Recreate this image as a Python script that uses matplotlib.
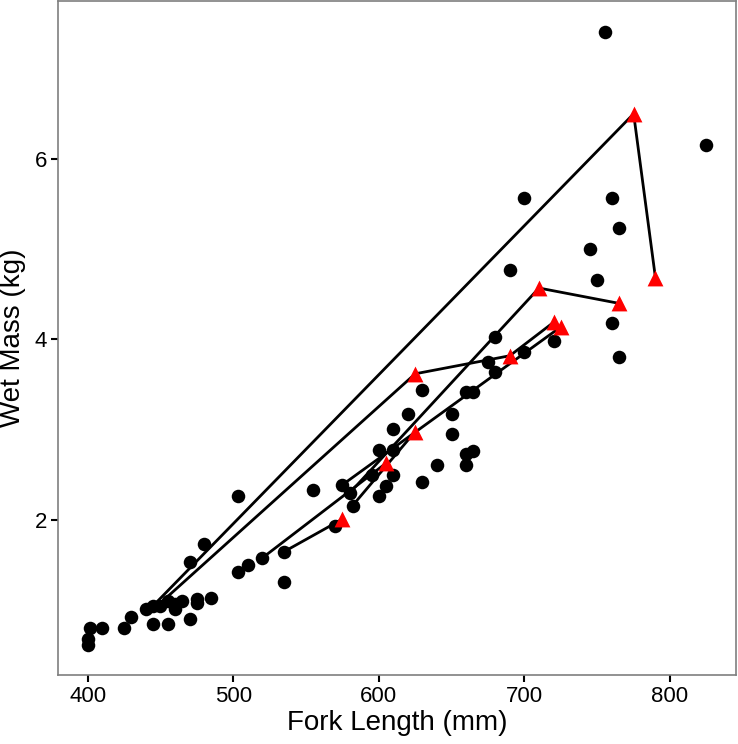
import matplotlib
matplotlib.use('Agg')
import matplotlib.pyplot as plt

plt.rcParams['font.family'] = ['Liberation Sans', 'DejaVu Sans']

# all fish (black dots)
fork_length = [755, 825, 700, 760, 765, 745, 750, 690, 760, 765, 720, 700,
               680, 675, 680, 660, 665, 630, 620, 650, 650, 610, 600, 610,
               660, 665, 660, 640, 595, 610, 605, 600, 630, 575, 580, 582,
               570, 555, 503, 535, 535, 520, 510, 503, 480, 470, 485, 475,
               475, 470, 465, 460, 460, 455, 455, 450, 445, 445, 440, 430,
               425, 410, 402, 400, 400]
wet_mass = [7.41, 6.15, 5.57, 5.57, 5.23, 5.00, 4.66, 4.77, 4.18, 3.81, 3.98, 3.86,
            4.03, 3.75, 3.64, 3.42, 3.42, 3.44, 3.18, 3.18, 2.95, 3.01, 2.78, 2.78,
            2.73, 2.76, 2.61, 2.61, 2.50, 2.50, 2.38, 2.27, 2.42, 2.39, 2.30, 2.16,
            1.93, 2.33, 2.27, 1.65, 1.31, 1.58, 1.50, 1.42, 1.73, 1.53, 1.14, 1.13,
            1.08, 0.90, 1.10, 1.02, 1.07, 1.10, 0.85, 1.05, 1.05, 0.85, 1.01, 0.93,
            0.80, 0.80, 0.80, 0.68, 0.62]

# recaptured fish: first point is the tagging capture, the rest are recaptures
track_length = [
    [445, 775, 790],
    [450, 625, 690, 720],
    [580, 710, 765],
    [575, 725],
    [520, 605],
    [535, 575],
    [582, 625],
]
track_mass = [
    [1.05, 6.50, 4.68],
    [1.08, 3.62, 3.82, 4.19],
    [2.30, 4.57, 4.40],
    [2.39, 4.14],
    [1.58, 2.63],
    [1.65, 2.01],
    [2.16, 2.98],
]

fig = plt.figure(figsize=(7.38, 7.44), dpi=100)
ax = fig.add_axes([0.0786, 0.0927, 0.9187, 0.906])

for xs, ys in zip(track_length, track_mass):
    ax.plot(xs, ys, color='black', lw=2.0, zorder=2)

ax.scatter(fork_length, wet_mass, s=95, color='black', linewidths=0, zorder=3)

for xs, ys in zip(track_length, track_mass):
    ax.scatter(xs[1:], ys[1:], s=130, marker='^', color='#ff0000',
               linewidths=0, zorder=4)

ax.set_xlim(379.7, 845.3)
ax.set_ylim(0.283, 7.75)
ax.set_xticks([400, 500, 600, 700, 800])
ax.set_yticks([2, 4, 6])

for sp in ax.spines.values():
    sp.set_color('#7f7f7f')
    sp.set_linewidth(1.2)

ax.tick_params(length=5, width=1.5, color='black', labelsize=16, pad=3)
ax.set_xlabel('Fork Length (mm)', fontsize=20, labelpad=2)
ax.set_ylabel('Wet Mass (kg)', fontsize=20, labelpad=6)

fig.savefig('out.png', dpi=100)
plt.close()
